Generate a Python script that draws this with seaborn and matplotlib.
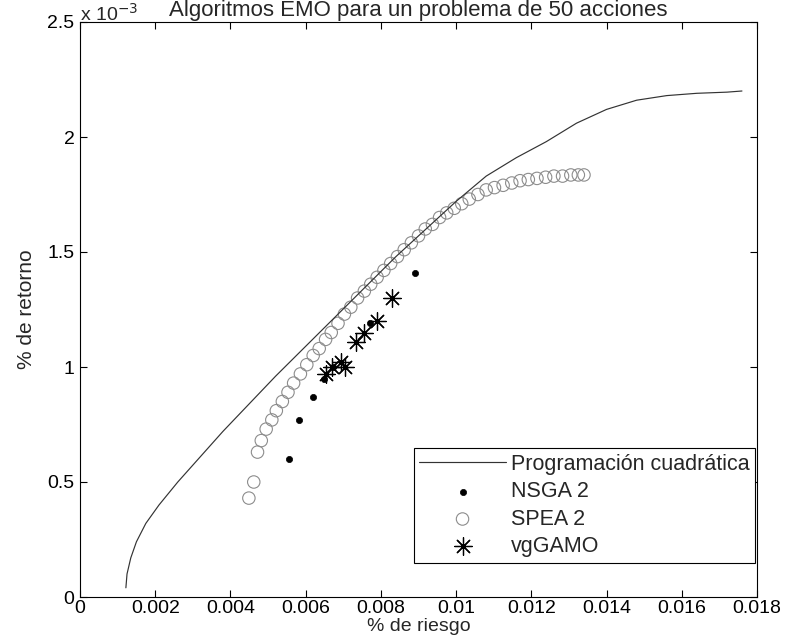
import matplotlib
matplotlib.use("Agg")
import matplotlib.pyplot as plt
import seaborn as sns
import pandas as pd

# Efficient frontier from quadratic programming (return in units of 1e-3)
riesgo_qp = [0.00122, 0.00125, 0.00135, 0.00150, 0.00175, 0.0021, 0.0026, 0.0032,
             0.0038, 0.0045, 0.0052, 0.0060, 0.0068, 0.0076, 0.0084, 0.0092,
             0.0100, 0.0108, 0.0116, 0.0124, 0.0132, 0.0140, 0.0148, 0.0156,
             0.0164, 0.0172, 0.0176]
retorno_qp = [0.04, 0.10, 0.17, 0.24, 0.32, 0.40, 0.50, 0.61, 0.72, 0.84, 0.96,
              1.09, 1.22, 1.35, 1.48, 1.60, 1.72, 1.83, 1.91, 1.98, 2.06, 2.12,
              2.16, 2.18, 2.19, 2.195, 2.20]

# NSGA 2 solutions
riesgo_nsga = [0.00556, 0.00582, 0.00620, 0.00648, 0.00672, 0.00770, 0.00890]
retorno_nsga = [0.60, 0.77, 0.87, 0.95, 1.00, 1.19, 1.41]

# SPEA 2 solutions
riesgo_spea = [0.00449, 0.00462, 0.00472, 0.00482, 0.00495, 0.00510, 0.00522,
               0.00538, 0.00553, 0.00568, 0.00586, 0.00603, 0.00620, 0.00636,
               0.00653, 0.00668, 0.00686, 0.00703, 0.00720, 0.00738, 0.00756,
               0.00773, 0.00790, 0.00808, 0.00826, 0.00844, 0.00862, 0.00881,
               0.00900, 0.00918, 0.00937, 0.00956, 0.00975, 0.00995, 0.01015,
               0.01035, 0.01058, 0.01080, 0.01102, 0.01125, 0.01148, 0.01170,
               0.01192, 0.01215, 0.01238, 0.01260, 0.01283, 0.01305, 0.01325,
               0.01340]
retorno_spea = [0.43, 0.50, 0.63, 0.68, 0.73, 0.77, 0.81, 0.85, 0.89, 0.93, 0.97,
                1.01, 1.05, 1.08, 1.12, 1.15, 1.19, 1.23, 1.26, 1.30, 1.33, 1.36,
                1.39, 1.42, 1.45, 1.48, 1.51, 1.54, 1.57, 1.60, 1.62, 1.65, 1.67,
                1.69, 1.71, 1.73, 1.75, 1.77, 1.78, 1.79, 1.80, 1.81, 1.815, 1.82,
                1.825, 1.83, 1.83, 1.835, 1.835, 1.835]

# vgGAMO solutions
riesgo_vg = [0.00655, 0.00670, 0.00695, 0.00705, 0.00735, 0.00755, 0.00790, 0.00830]
retorno_vg = [0.97, 1.00, 1.02, 1.00, 1.11, 1.15, 1.20, 1.30]

x_ticks = [0, 0.002, 0.004, 0.006, 0.008, 0.01, 0.012, 0.014, 0.016, 0.018]
x_ticklabels = ["0", "0.002", "0.004", "0.006", "0.008", "0.01", "0.012",
                "0.014", "0.016", "0.018"]
y_ticks = [0, 0.5, 1, 1.5, 2, 2.5]
y_ticklabels = ["0", "0.5", "1", "1.5", "2", "2.5"]

sns.set_theme(style="white")
plt.rcParams["font.family"] = ["Liberation Sans", "DejaVu Sans"]
FS = 14

fig = plt.figure(figsize=(7.87, 6.36), dpi=100)
ax = fig.add_axes([80 / 787, 39 / 636, 677 / 787, 575 / 636])

df_qp = pd.DataFrame({"riesgo": riesgo_qp, "retorno": retorno_qp})
df_nsga = pd.DataFrame({"riesgo": riesgo_nsga, "retorno": retorno_nsga})
df_spea = pd.DataFrame({"riesgo": riesgo_spea, "retorno": retorno_spea})
df_vg = pd.DataFrame({"riesgo": riesgo_vg, "retorno": retorno_vg})

sns.lineplot(data=df_qp, x="riesgo", y="retorno", ax=ax, sort=False,
             estimator=None, color="#333333", linewidth=0.85,
             label="Programación cuadrática")
sns.scatterplot(data=df_nsga, x="riesgo", y="retorno", ax=ax, marker="o",
                s=20, color="black", edgecolor="black", linewidth=0.5,
                label="NSGA 2")
sns.scatterplot(data=df_spea, x="riesgo", y="retorno", ax=ax, marker="o",
                s=80, facecolor="none", edgecolor="#8c8c8c", linewidth=0.8,
                label="SPEA 2")
sns.scatterplot(data=df_vg, x="riesgo", y="retorno", ax=ax, marker=(8, 2, 0),
                s=160, color="black", edgecolor="black", linewidth=0.9,
                label="vgGAMO")

ax.set_xlim(0, 0.018)
ax.set_ylim(0, 2.5)
ax.set_xticks(x_ticks)
ax.set_xticklabels(x_ticklabels, fontsize=FS)
ax.set_yticks(y_ticks)
ax.set_yticklabels(y_ticklabels, fontsize=FS)
ax.tick_params(direction="in", length=5, width=0.8, top=True, right=True,
               bottom=True, left=True, colors="black")
ax.tick_params(axis="x", pad=2)
ax.tick_params(axis="y", pad=4)
for sp in ax.spines.values():
    sp.set_color("black")
    sp.set_linewidth(0.8)

ax.set_xlabel("% de riesgo", fontsize=14, labelpad=1)
ax.set_ylabel("% de retorno", fontsize=15, labelpad=8)
ax.set_title("Algoritmos EMO para un problema de 50 acciones", fontsize=16, pad=4)
fig.text(80 / 787, 1 - 14 / 636, r"x 10$^{-3}$", fontsize=FS, ha="left", va="center")

leg = ax.legend(loc="lower right", bbox_to_anchor=(0.997, 0.06), fontsize=15.5,
                frameon=True, fancybox=False, edgecolor="black", framealpha=1,
                borderpad=0.25, labelspacing=0.3, handlelength=4.0,
                handletextpad=0.25, borderaxespad=0.0)
leg.get_frame().set_linewidth(0.8)

fig.savefig("out.png", dpi=100)
